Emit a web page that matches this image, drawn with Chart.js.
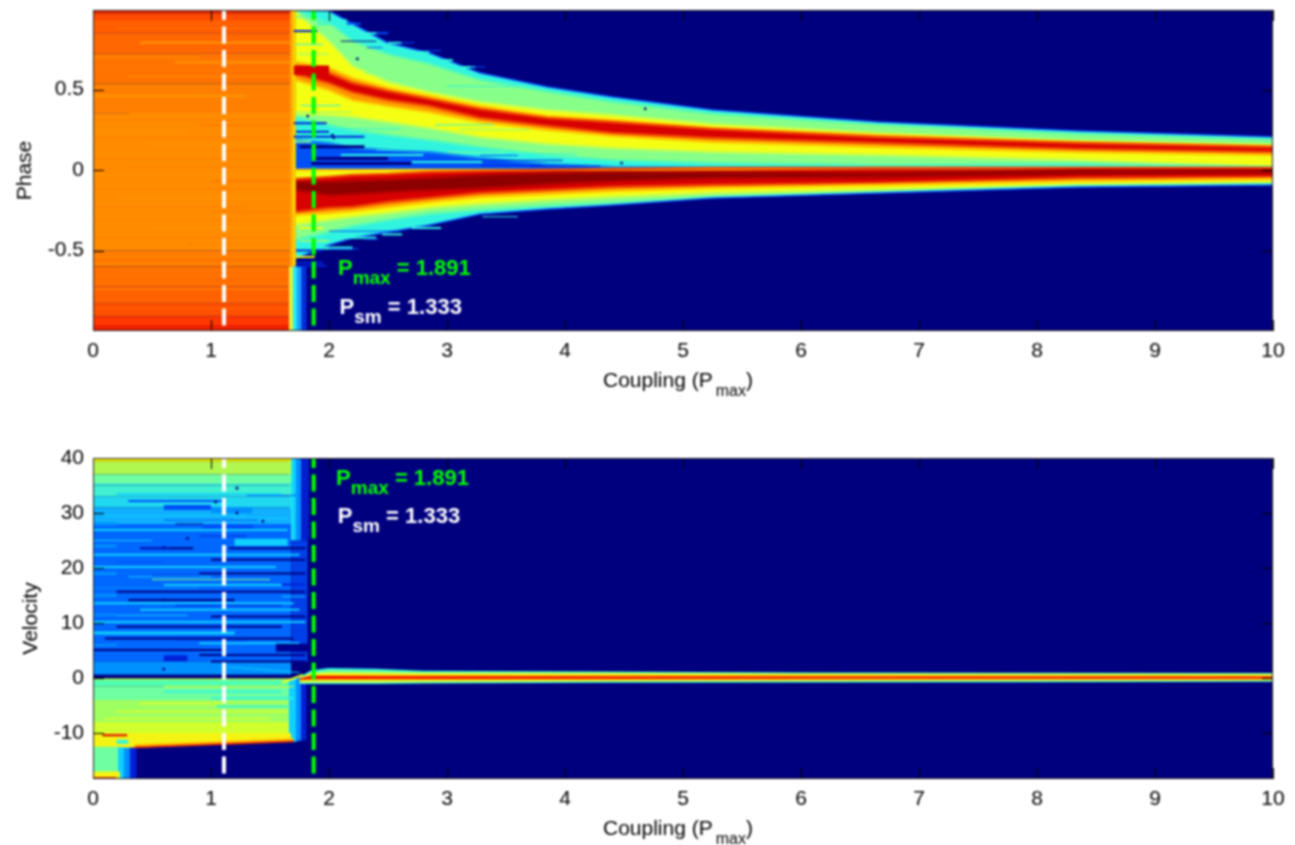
<!DOCTYPE html>
<html><head><meta charset="utf-8">
<script src="https://cdn.jsdelivr.net/npm/chart.js@4"></script>
<style>html,body{margin:0;padding:0;background:#fff;overflow:hidden}
canvas{position:absolute;left:0;filter:blur(.8px)}#c1{top:0}#c2{top:415px}</style></head>
<body><canvas id="c1" width="1295" height="415"></canvas><canvas id="c2" width="1295" height="430"></canvas>
<script>
const xTicks=[0,1,2,3,4,5,6,7,8,9,10];
const phaseTicks=[-0.5,0,0.5];
const velocityTicks=[-10,0,10,20,30,40];
const whiteX=1.11, greenX=1.87;
const P={n:'#00007f',k:'#00008c',d:'#0020d8',b:'#0050f8',l:'#0090ff',c:'#10d0ff',a:'#30f4e0',g:'#88ff88',y:'#f4ff14',o:'#ff9400',r:'#d80000',x:'#8c0000',
 s:'#ff7a00',t:'#ff9600',u:'#ff6400',v:'#ffb000'};

// PHASE PANEL: ordered contours of the ridge structure
const wedgeX=[1.72,2.0,2.2,2.5,2.85,3.28,3.85,4.4,5.25,6.65,8.35,10];
const cA=[.994,.988,.907,.789,.727,.602,.516,.453,.373,.298,.242,.205];
const cB=[.985,.919,.80,.72,.66,.56,.488,.424,.350,.282,.226,.190];
const cC=[.98,.80,.646,.547,.484,.422,.373,.342,.286,.230,.180,.155];
const cD=[.671,.634,.571,.509,.460,.398,.335,.311,.261,.217,.174,.149];
const cE=[.640,.602,.540,.491,.441,.379,.323,.298,.255,.205,.168,.143];
const cF=[.596,.540,.484,.435,.398,.323,.273,.230,.199,.168,.130,.112];
const cG=[.559,.497,.435,.398,.360,.298,.248,.211,.174,.143,.112,.093];
const cH=[.35,.342,.329,.298,.261,.205,.161,.137,.112,.093,.062,.019];
const cI=[.329,.280,.248,.217,.186,.143,.093,.062,.043,.031,.037,.019];
const cJ=[.186,.168,.137,.124,.112,.075,.037,.019,.012,.012,.012,.012];
const cK=[0,0,0,0,0,0,0,0,.005,.012,.012,.012];
const cL=[-.056,-.043,-.031,-.025,-.012,-.006,0,.006,.012,.012,.012,.012];
const cM=[-.075,-.075,-.068,-.062,-.050,-.031,-.019,-.012,-.012,-.019,0,0];
const cN=[-.124,-.155,-.149,-.137,-.124,-.112,-.087,-.068,-.050,-.043,-.025,-.019];
const cO=[-.261,-.236,-.230,-.199,-.174,-.143,-.124,-.106,-.093,-.081,-.050,-.043];
const cP=[-.280,-.267,-.255,-.230,-.199,-.168,-.149,-.130,-.112,-.093,-.068,-.056];
const cQ=[-.342,-.311,-.292,-.267,-.236,-.211,-.186,-.168,-.143,-.124,-.093,-.081];
const cR=[-.435,-.385,-.348,-.311,-.273,-.248,-.224,-.205,-.168,-.137,-.099,-.087];
const cS=[-.547,-.466,-.422,-.385,-.342,-.273,-.242,-.217,-.174,-.143,-.106,-.093];
const phaseBandColors=['a','g','y','o','r','o','y','g','a','b',null,'y','r','x','r','o','y','g','a'];
const phaseContours=[cA,cB,cC,cD,cE,cF,cG,cH,cI,cJ,cK,cK,cL,cM,cN,cO,cP,cQ,cR,cS];
const phaseEdgeColors=['#1060ff','#58fab4','#c4ff50','#ffc800','#f04800','#f04800','#ffc800','#c4ff50','#58fab4','#1090f0',null,'#ffc800','#f04800','#b00000','#b00000','#f04800','#ffc800','#c4ff50','#58fab4','#1060ff'];
// block at small coupling
const flatEdges=[.994,.973,.932,.849,.725,.538,.352,-.5,-.6,-.725,-.828,-.91,-.963,-1];
const flatColors=['#ee2800','#ff4c00','#ff5c00','#ff6800','#ff7400','#ff8000','#ff8c00','#ff8000','#ff7000','#ff6000','#ff5000','#ff3800','#ee2000'];
// streaks: from, to, level, thickness, colour key
const flatStreaks=[[0,1.68,.91,2,'u'],[.2,1.68,.88,1,'s'],[0,1.2,.82,1,'u'],[.4,1.68,.79,2,'t'],[0,1.68,.76,1,'u'],[0,.9,.70,1,'t'],[.7,1.68,.67,2,'t'],[0,1.68,.62,1,'s'],[.3,1.68,.58,1,'t'],[0,1.68,.53,1,'s'],[.8,1.68,.5,1,'s'],[0,1.3,.46,2,'t'],[1.2,1.68,.42,1,'s'],[0,1.68,.39,1,'s'],[.3,1.68,.35,1,'t'],[0,1.68,.31,1,'s'],[.9,1.68,.28,2,'s'],[0,.8,.24,1,'t'],[0,1.68,.2,1,'s'],[.5,1.68,.16,1,'t'],[1.1,1.68,.12,1,'s'],[0,1.68,.07,1,'s'],[.3,1.68,.02,1,'s'],[0,1.68,-.03,1,'t'],[1,1.68,-.07,2,'s'],[0,1.68,-.12,1,'s'],[.2,1.68,-.17,1,'t'],[0,1.3,-.23,1,'s'],[1,1.68,-.26,1,'s'],[0,1.68,-.31,1,'s'],[.5,1.68,-.36,1,'t'],[0,1.68,-.42,1,'s'],[.8,1.68,-.46,1,'s'],[0,1.68,-.52,2,'s'],[0,1.68,-.56,1,'u'],[.2,1.68,-.62,1,'s'],[0,1.68,-.68,1,'u'],[0,1.68,-.74,2,'s'],[.5,1.68,-.79,1,'u'],[0,1.68,-.86,1,'u']];
const ridgeStreaks=[[1.7,1.9,.863,2,'d'],[1.9,2.15,.93,2,'a'],[1.9,2.22,.909,2,'a'],[2.15,2.27,.909,2,'b'],[2.2,2.42,.85,2,'a'],[2.4,2.5,.85,2,'b'],[2.5,2.62,.79,2,'a'],[2.6,2.72,.79,1,'b'],[2.7,2.85,.733,2,'a'],[2.8,2.95,.74,1,'b'],[2.95,3.05,.683,2,'a'],[3.05,3.24,.64,2,'a'],[3.2,3.32,.64,1,'b'],[2.1,2.4,.8,1,'n'],[2.32,2.45,.76,1,'b'],[1.7,1.98,.29,2,'d'],[1.72,2,.238,2,'d'],[1.7,2.3,.207,2,'d'],[2.0,2.6,.255,1,'a'],[1.7,1.85,.176,2,'g'],[1.9,2.4,.19,1,'a'],[1.75,2.3,.145,3,'n'],[1.85,2.5,.072,3,'n'],[1.85,2.7,.04,3,'n'],[2.1,2.8,.094,2,'a'],[2.4,3.1,.125,1,'a'],[3.0,3.5,.11,1,'g'],[3.28,3.98,.06,1,'d'],[3.28,3.8,.03,1,'d'],[3.28,3.6,.09,1,'b'],[3.7,4.3,.024,1,'d'],[2.7,3.3,.05,2,'a'],[3.4,4.1,.1,1,'a'],[1.72,1.9,.95,1,'a'],[1.72,1.95,.78,1,'a'],[1.74,2.0,.72,1,'g'],[1.76,2.1,.4,1,'a'],[1.72,2.2,.36,1,'g'],[2.3,3.0,.6,1,'g'],[3,3.6,.52,1,'a'],[2.9,3.4,.28,1,'a'],[3.1,3.7,.25,1,'g'],[1.95,2.22,-.41,2,'a'],[2.0,2.4,-.42,2,'a'],[2.3,2.42,-.43,1,'b'],[1.9,2.2,-.485,3,'a'],[2.0,2.25,-.49,1,'b'],[1.72,1.88,-.54,2,'y'],[1.72,1.95,-.5,2,'d'],[1.72,1.95,-.575,2,'d'],[1.72,1.98,-.595,2,'d'],[2.0,2.6,-.38,1,'b'],[2.45,2.62,-.4,2,'a'],[2.7,2.95,-.36,2,'a'],[1.76,2,-.44,1,'y'],[1.74,1.95,-.36,2,'y'],[3.3,3.6,-.29,1,'a']];
const phaseSpecks=[{x:4.68,y:.38},{x:4.48,y:.043},{x:2.24,y:.69},{x:2.03,y:.217},{x:1.82,y:.335},{x:2.04,y:.2}];

// VELOCITY PANEL
const velEdges=[40,39.3,37,35,33,31,28,3,.6,0,-1.5,-4,-8,-10];
const velColors=['#f0f000','#b0f850','#70ffa0','#40f0d0','#20d8f0','#10b0ff','#0068ff','#0090ff','#00007f','#50ffb0','#70ffa0','#a0ff60','#d0ff30'];
const ridgeX=[1.75,1.85,2,2.4,2.8,4.3,6,8,10];
const vTop=[.2,1.4,1.8,1.7,1.3,1.2,1,.95,.9];
const vGreen=[.1,1.1,1.4,1.3,1.1,1.05,.9,.85,.8];
const vYellow=[0,.8,.95,.9,.85,.8,.75,.7,.65];
const vOrange=[-.1,.55,.55,.55,.52,.5,.48,.45,.4];
const vRedTop=[-.1,.35,.35,.32,.3,.28,.25,.25,.22];
const vRedBot=[-.3,-.15,-.15,-.15,-.15,-.13,-.1,-.1,-.07];
const vOrangeBot=[-.4,-.4,-.37,-.35,-.35,-.33,-.3,-.27,-.25];
const vYellowBot=[-.7,-.65,-.65,-.65,-.6,-.55,-.5,-.45,-.4];
const vGreenBot=[-1,-.95,-.95,-.95,-.85,-.7,-.65,-.6,-.55];
const vEdgeBot=[-1.1,-1.1,-1.1,-1.1,-1,-.85,-.8,-.75,-.7];
const velStreaks=[[.3,1.1,32.2,2,'b'],[.6,1,31,5,'b'],[1,1.35,30.5,6,'l'],[.6,1.4,28.7,1,'b'],[.93,1.36,27.5,5,'b'],[.7,.93,28,1,'n'],[0,1.65,26.9,2,'c'],[1.2,1.65,24.7,7,'c'],[.4,.85,23.6,2,'n'],[1.15,1.8,23.6,2,'n'],[.4,.65,23.6,1,'d'],[0,1.75,22.4,2,'c'],[1,1.8,21.5,2,'n'],[0,1.55,20.2,2,'c'],[.9,1.8,19,2,'n'],[.5,1.5,17.9,1,'g'],[.6,1.6,16.9,2,'c'],[.2,1.8,15.7,2,'n'],[.3,1.2,14.2,2,'n'],[0,1.7,13.6,2,'c'],[.4,1.75,12.4,2,'c'],[1,1.8,11.2,2,'n'],[0,1.8,10.2,2,'c'],[.2,1.6,9.3,2,'n'],[0,1.2,8.2,3,'c'],[.1,1.7,7.2,2,'n'],[.9,1.75,6.3,2,'c'],[0,1.1,5.1,2,'n'],[.6,.8,3.6,6,'d'],[.9,1.8,4.2,2,'n'],[1,1.8,3,2,'n'],[1.55,1.85,5.5,8,'k'],[0,1.7,.05,2,'n'],[1.3,1.72,33.2,1,'b'],[0,1.7,35.2,1,'c'],[.2,1.6,33.4,2,'c'],[.1,1.3,29.5,1,'c'],[1.2,1.65,29,1,'c'],[0,.5,25,1,'c'],[.9,1.3,25.8,1,'d'],[.5,.9,18.6,1,'d'],[0,.9,16.4,1,'l'],[.7,1.6,13.2,1,'d'],[1.6,1.8,17,2,'d'],[1.6,1.8,14.8,1,'c'],[0,.2,28,3,'l'],[0,.2,24,3,'l'],[0,.2,19,3,'l'],[0,.2,15,3,'l'],[0,.2,11.5,2,'l'],[0,.2,6,2,'l'],[.2,.6,21,1,'b'],[.3,1,18.4,1,'c'],[.2,.8,11.4,1,'c'],[.7,1.3,6.8,1,'b'],[0,1.7,-.2,1,'y'],[.6,1.7,-1.6,1,'y'],[.6,1.6,-2.5,2,'a'],[1,1.7,-3.7,2,'a'],[.4,1.1,-4.6,1,'y'],[1.05,1.65,-5.2,2,'a'],[.2,1.65,-6.1,1,'y'],[.1,1.5,-7.4,1,'y'],[.08,.29,-10.4,2,'r'],[.2,.3,-11.6,4,'a']];
const velDiagonals=[[1.15,1.75,2,1,1,'c'],[1.6,1.78,-.9,.6,2,'y']];
const velSpecks=[{x:1.04,y:32},{x:1.22,y:30},{x:.8,y:25.4},{x:.6,y:23.7},{x:1.22,y:34.5},{x:.6,y:14.2},{x:.6,y:1.6},{x:1.44,y:28.5}];
const annotTop=[{x:2.076,y:-.652,color:'#00ff00',sub:'max',main:'P',tail:' = 1.891'},{x:2.09,y:-.894,color:'#ffffff',sub:'sm',main:'P',tail:' = 1.333'}];
const annotBot=[{x:2.06,y:35.1,color:'#00ff00',sub:'max',main:'P',tail:' = 1.891'},{x:2.075,y:28.2,color:'#ffffff',sub:'sm',main:'P',tail:' = 1.333'}];

const pts=(xs,ys)=>xs.map((x,i)=>({x,y:ys[i]}));
function band(L,xs,hi,lo,color){const i=L.length;
 L.push({data:pts(xs,hi),fill:i+1,backgroundColor:color,borderWidth:0,pointRadius:0,order:-i,tension:0});
 L.push({data:pts(xs,lo),fill:false,borderWidth:0,pointRadius:0,order:-i-1,tension:0});}
function rect(L,x0,x1,hi,lo,color){band(L,[x0,x1],[hi,hi],[lo,lo],color);}
function stroke(L,x0,x1,y0,y1,w,color,dash,off){const i=L.length;
 L.push({data:[{x:x0,y:y0},{x:x1,y:y1}],fill:false,borderColor:color,borderWidth:w,pointRadius:0,order:-i,borderDash:dash||[],borderDashOffset:off||0,borderCapStyle:'butt'});}
function contour(L,xs,ys,w,color){const i=L.length;
 L.push({data:pts(xs,ys),fill:false,borderColor:color,borderWidth:w,pointRadius:0,order:-i,tension:0,borderCapStyle:'butt'});}
function specks(L,data,c){const i=L.length;L.push({data,showLine:false,pointRadius:1.4,pointBackgroundColor:c,pointBorderWidth:0,order:-i});}

// phase layers
const A=[];
const yTop=.994,yBot=-1;
rect(A,0,10,yTop,yBot,P.n);
flatColors.forEach((c,i)=>rect(A,0,1.69,flatEdges[i],flatEdges[i+1],c));
flatStreaks.forEach(s=>stroke(A,s[0],s[1],s[2],s[2],s[3],P[s[4]]));
rect(A,1.67,1.70,yTop,-.6,'#ffa800');rect(A,1.69,1.72,yTop,-.6,'#ffd000');
rect(A,1.66,1.70,-.6,yBot,'#e0f040');rect(A,1.695,1.73,-.6,yBot,'#20f0f0');rect(A,1.725,1.77,-.6,yBot,'#20a0ff');rect(A,1.765,1.81,-.6,yBot,'#0030e0');
phaseBandColors.forEach((c,i)=>{if(c)band(A,wedgeX,phaseContours[i],phaseContours[i+1],P[c]);});
phaseEdgeColors.forEach((c,i)=>{if(c)contour(A,wedgeX,phaseContours[i],(i===0||i===19)?1.5:2.5,c);});
ridgeStreaks.forEach(s=>stroke(A,s[0],s[1],s[2],s[2],s[3],P[s[4]]));
rect(A,1.7,2,.65,.59,P.r);
specks(A,phaseSpecks,P.n);
stroke(A,whiteX,whiteX,yTop,-.975,4,'#ffffff',[17,6.5],7);
stroke(A,greenX,greenX,yTop,-.975,4,'#00ff00',[17,6.5],7);

// velocity layers
const B=[];
const vMax=40,vMin=-18.36;
rect(B,0,10,vMax,vMin,P.n);
rect(B,1.66,1.70,40,25,'#20e8e8');rect(B,1.69,1.73,40,25,P.c);rect(B,1.72,1.77,40,25,P.l);rect(B,1.76,1.83,40,25,'#0020d0');
rect(B,1.68,1.82,25,3,'#0040e8');
velColors.forEach((c,i)=>rect(B,0,1.68,velEdges[i],velEdges[i+1],c));
rect(B,1.66,1.73,0,-11.6,P.c);rect(B,1.72,1.77,0,-11.4,P.l);rect(B,1.76,1.81,0,-11.3,P.d);
band(B,[0,.35,1.68],[-10,-10,-10],[-12.9,-12.7,-11.5],'#f4f414');
band(B,[.35,1.7],[-12,-10.9],[-12.7,-11.5],'#ffc800');
rect(B,0,.22,-12.5,vMin,'#70ffa0');rect(B,.21,.27,-12.6,vMin,P.c);rect(B,.26,.32,-12.7,vMin,P.l);rect(B,.31,.37,-12.7,vMin,P.d);
rect(B,0,.23,-17,vMin,'#f4f414');rect(B,0,.2,-18,vMin,'#e83000');
stroke(B,.35,1.7,-12.6,-11.5,2,'#f03000');
velStreaks.forEach(s=>stroke(B,s[0],s[1],s[2],s[2],s[3],P[s[4]]));
velDiagonals.forEach(d=>stroke(B,d[0],d[1],d[2],d[3],d[4],P[d[5]]));
band(B,ridgeX,vTop,vEdgeBot,P.a);
band(B,ridgeX,vGreen,vGreenBot,P.g);
band(B,ridgeX,vYellow,vYellowBot,P.y);
band(B,ridgeX,vOrange,vOrangeBot,P.o);
band(B,ridgeX,vRedTop,vRedBot,'#f01000');
specks(B,velSpecks,P.n);
stroke(B,whiteX,whiteX,vMax,-17.6,4,'#ffffff',[17,6.5],7);
stroke(B,greenX,greenX,vMax,-17.6,4,'#00ff00',[17,6.5],7);

const FONT='"Liberation Sans",Arial,sans-serif';
const overlay=annots=>({id:'overlay',
 afterDatasetsDraw(ch){const c=ch.ctx,{x:sx,y:sy}=ch.scales,a=ch.chartArea;
  c.save();c.strokeStyle='#000';c.lineWidth=1;c.beginPath();
  sx.ticks.forEach(t=>{const p=Math.round(sx.getPixelForValue(t.value))+.5;c.moveTo(p,a.top);c.lineTo(p,a.top+11);c.moveTo(p,a.bottom);c.lineTo(p,a.bottom-11);});
  sy.ticks.forEach(t=>{const p=Math.round(sy.getPixelForValue(t.value))+.5;c.moveTo(a.left,p);c.lineTo(a.left+11,p);c.moveTo(a.right,p);c.lineTo(a.right-11,p);});
  c.stroke();c.strokeStyle='#222';c.strokeRect(a.left+.5,a.top+.5,a.right-a.left-1,a.bottom-a.top-1);
  c.textBaseline='alphabetic';c.textAlign='left';
  annots.forEach(n=>{let px=sx.getPixelForValue(n.x);const py=sy.getPixelForValue(n.y);c.fillStyle=n.color;
   c.font='bold 22px '+FONT;c.fillText(n.main,px,py);px+=c.measureText(n.main).width;
   c.font='bold 19px '+FONT;c.fillText(n.sub,px,py+9);px+=c.measureText(n.sub).width;
   c.font='bold 22px '+FONT;c.fillText(n.tail,px,py);});
  // x axis title
  c.fillStyle='#000';const by=a.bottom+56;let tx=603;
  c.font='21px '+FONT;c.fillText('Coupling (P',tx,by);tx+=c.measureText('Coupling (P').width+3;
  c.font='16px '+FONT;c.fillText('max',tx,by+9);tx+=c.measureText('max').width;
  c.font='21px '+FONT;c.fillText(')',tx,by);
  c.restore();}});
function make(id,sets,yMin,yMax,yTicks,yTitle,titleOffset,top,plotBottom,annots){
 const canvas=document.getElementById(id);
 return new Chart(canvas,{type:'line',data:{datasets:sets},plugins:[overlay(annots)],options:{
  responsive:false,animation:false,parsing:true,
  layout:{padding:{top,right:22,left:0,bottom:0}},
  plugins:{legend:{display:false},tooltip:{enabled:false},title:{display:false}},
  scales:{
   x:{type:'linear',min:0,max:10,grid:{display:false},border:{display:false},
    afterBuildTicks:s=>{s.ticks=xTicks.map(v=>({value:v}));},
    afterFit:s=>{s.height=canvas.height-plotBottom;s.paddingLeft=0;s.paddingRight=0;},
    ticks:{autoSkip:false,maxRotation:0,color:'#000',font:{family:FONT,size:21},padding:0,callback:v=>String(v)}},
   y:{type:'linear',min:yMin,max:yMax,grid:{display:false},border:{display:false},
    afterBuildTicks:s=>{s.ticks=yTicks.map(v=>({value:v}));},
    afterFit:s=>{s.width=93;s.paddingTop=0;s.paddingBottom=0;},
    title:{display:true,text:yTitle,color:'#000',font:{family:FONT,size:21},padding:{top:titleOffset,bottom:0}},
    ticks:{autoSkip:false,color:'#000',font:{family:FONT,size:21},padding:1,callback:v=>String(v)}}
  }}});
}
make('c1',A,yBot,yTop,phaseTicks,'Phase',13,10,331,annotTop);
make('c2',B,vMin,vMax,velocityTicks,'Velocity',19,43,364,annotBot);
</script></body></html>
